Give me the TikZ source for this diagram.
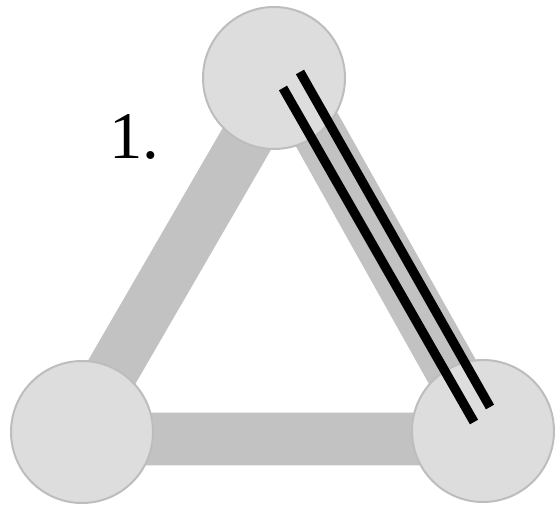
\documentclass[tikz,border=0pt]{standalone}
\usepackage{fontspec}
\setmainfont{Liberation Serif}
\usepackage{xcolor}
\definecolor{nodefill}{HTML}{DDDDDD}
\definecolor{noderim}{HTML}{BDBDBD}
\definecolor{bandgray}{HTML}{C2C2C2}
\usetikzlibrary{backgrounds}

\begin{document}
\begin{tikzpicture}[x=0.75pt, y=-0.75pt,
  vertex/.style={circle, draw=noderim, line width=1.5pt, fill=nodefill,
                 inner sep=0pt, minimum size=106.5pt},
  band/.style={draw=bandgray, line width=39.5pt},
  bar/.style={draw=black, line width=7pt}
]
  \useasboundingbox (0,0) rectangle (555,505);
  \node[vertex] (apex)  at (274,78)  {};
  \node[vertex] (left)  at (82,432)  {};
  \node[vertex] (right) at (483,431) {};
  \node[font=\fontsize{50}{50}\selectfont, inner sep=0pt] (label) at (134,137) {1.};

  \begin{scope}[on background layer]
    \draw[band] ([shift={(11,-5)}]apex.center) -- ([shift={(-9,7)}]left.center)
                -- ([shift={(7,8)}]right.center) -- cycle;
  \end{scope}
  \draw[bar] ([shift={(9,10)}]apex.center)  -- ([shift={(-9,-9)}]right.center);
  \draw[bar] ([shift={(26,-6)}]apex.center) -- ([shift={(7,-24)}]right.center);
\end{tikzpicture}
\end{document}
